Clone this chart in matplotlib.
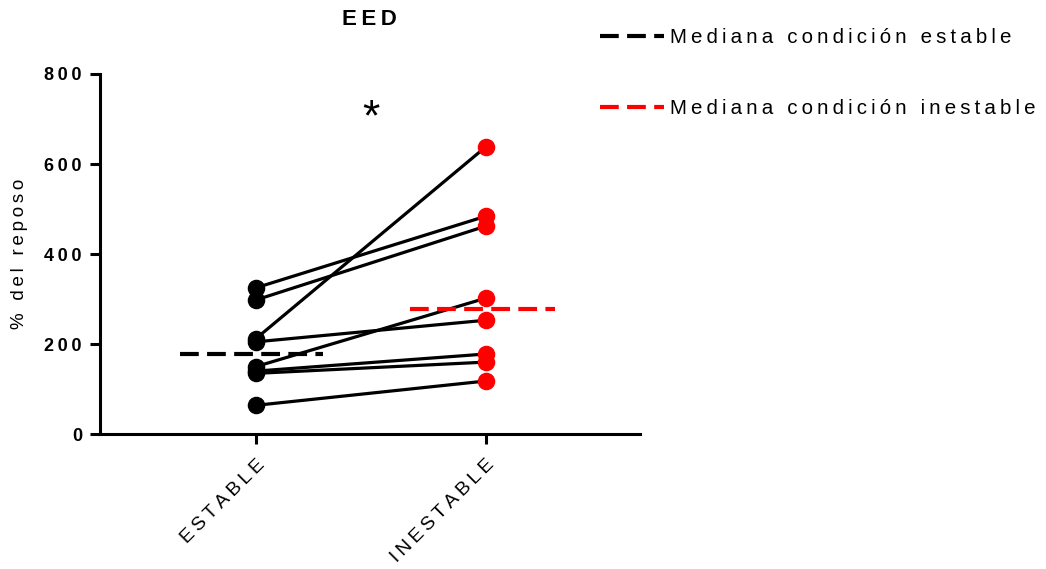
import numpy as np
import matplotlib.pyplot as plt

plt.rcParams['font.family'] = ['Liberation Sans', 'DejaVu Sans']

categories = ["ESTABLE", "INESTABLE"]
estable = [64, 135, 140, 150, 205, 212, 298, 325]
inestable = [118, 160, 178, 302, 253, 638, 462, 484]
yticks = [0, 200, 400, 600, 800]


def spaced(s):
    # GraphPad style letter spacing
    return "\u2009".join(s)


fig = plt.figure(figsize=(10.46, 5.69), dpi=100)
ax = fig.add_axes([0.0956, 0.237, 0.516, 0.633])

x = np.arange(len(categories))
for a, b in zip(estable, inestable):
    ax.plot(x, [a, b], color='black', lw=2.3, zorder=2)
ax.scatter([x[0]] * len(estable), estable, s=135, color='black', zorder=3)
ax.scatter([x[1]] * len(inestable), inestable, s=135, color='#ff0000', zorder=3)

med_e = np.median(estable)
med_i = np.median(inestable)
ax.plot([x[0] - 0.33, x[0] + 0.29], [med_e, med_e], color='black', lw=3,
        dashes=(4.5, 2), zorder=4, label=spaced("Mediana condición estable"))
ax.plot([x[1] - 0.33, x[1] + 0.3], [med_i, med_i], color='#ff0000', lw=3,
        dashes=(4.5, 2), zorder=4, label=spaced("Mediana condición inestable"))

ax.text(0.5, 700, "*", ha='center', va='center', fontsize=32)

ax.set_xlim(-0.678, 1.67)
ax.set_ylim(0, 800)
ax.set_xticks(x)
ax.set_xticklabels([spaced(c) for c in categories], rotation=45, ha='right',
                   rotation_mode='anchor', fontsize=14)
ax.set_yticks(yticks)
ax.set_yticklabels([spaced(str(t)) for t in yticks], fontsize=13, fontweight='bold')
ax.set_ylabel(spaced("% del reposo"), fontsize=13.5, labelpad=12)
ax.set_title(spaced("EED"), fontsize=16, fontweight='bold', pad=35)

for side in ['top', 'right']:
    ax.spines[side].set_visible(False)
for side in ['left', 'bottom']:
    ax.spines[side].set_linewidth(2.2)
ax.tick_params(width=2.2, length=7, direction='out', pad=6)
ax.tick_params(axis='x', pad=9)

fig.legend(loc='upper left', bbox_to_anchor=(0.574, 0.95), frameon=False,
           fontsize=14.8, handlelength=3.1, handletextpad=0.3, labelspacing=2.5,
           borderpad=0, borderaxespad=0)

fig.savefig("out.png", dpi=100)
